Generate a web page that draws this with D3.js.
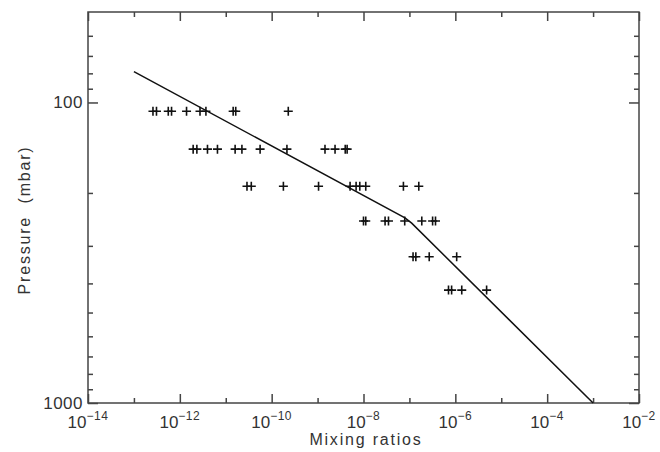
<!DOCTYPE html>
<html>
<head>
<meta charset="utf-8">
<script src="https://cdn.jsdelivr.net/npm/d3@7"></script>
<style>
  html, body { margin: 0; padding: 0; background: #fff; }
  svg { display: block; }
  text { font-family: "Liberation Sans", Arial, Helvetica, sans-serif; fill: #333; }
</style>
</head>
<body>
<svg id="chart" width="660" height="452"></svg>
<script>
// ---- Data ----
// Pressure levels (mbar) of the observation rows
const pressureLevels = [107, 143, 190, 248, 326, 421];
// Retrieved mixing ratios at each pressure level
const ratiosAt107 = [2.6e-13, 3.1e-13, 5.6e-13, 6.6e-13, 1.4e-12, 2.75e-12, 3.7e-12, 1.45e-11, 1.65e-11, 2.3e-10];
const ratiosAt143 = [1.95e-12, 2.35e-12, 4.0e-12, 6.6e-12, 1.6e-11, 2.25e-11, 5.6e-11, 2.15e-10, 1.45e-9, 2.4e-9, 4.0e-9, 4.4e-9];
const ratiosAt190 = [2.9e-11, 3.6e-11, 1.8e-10, 1.05e-9, 5.1e-9, 6.9e-9, 8.3e-9, 1.12e-8, 7.4e-8, 1.6e-7];
const ratiosAt248 = [1.0e-8, 1.12e-8, 2.95e-8, 3.5e-8, 7.9e-8, 1.86e-7, 3.2e-7, 3.7e-7];
const ratiosAt326 = [1.2e-7, 1.38e-7, 2.7e-7, 1.07e-6];
const ratiosAt421 = [7.1e-7, 8.3e-7, 1.38e-6, 4.8e-6];
const ratioRows = [ratiosAt107, ratiosAt143, ratiosAt190, ratiosAt248, ratiosAt326, ratiosAt421];

// Model profile
const profileRatio = [1e-13, 8e-8, 1.12e-7, 1e-3];
const profilePressure = [79, 242, 252, 1000];

// Axes
const xTickExponents = [-14, -12, -10, -8, -6, -4, -2];
const yTickLabels = [100, 1000];
const xTitle = "Mixing ratios";
const yTitle = "Pressure  (mbar)";

// ---- Layout ----
const mLeft = 88, mRight = 639, mTop = 12, mBottom = 403;
const svg = d3.select("#chart");

const x = d3.scaleLog().domain([1e-14, 1e-2]).range([mLeft, mRight]);
const y = d3.scaleLog().domain([50, 1000]).range([mTop, mBottom]);

const axisColor = "#444";

// Tick values
const xMajor = xTickExponents.map(e => Math.pow(10, e));
const xMinor = d3.range(-13, -2, 2).map(e => Math.pow(10, e));
const yMajor = yTickLabels;
const yMinor = [60, 70, 80, 90, 200, 300, 400, 500, 600, 700, 800, 900];

function styleAxis(g) {
  g.select(".domain").remove();
  g.selectAll(".tick line").attr("stroke", axisColor).attr("stroke-width", 1.5);
  g.selectAll(".tick text").remove();
}

// bottom ticks
svg.append("g").attr("transform", `translate(0,${mBottom})`)
  .call(d3.axisTop(x).tickValues(xMajor).tickSize(9).tickFormat(""))
  .call(styleAxis);
svg.append("g").attr("transform", `translate(0,${mBottom})`)
  .call(d3.axisTop(x).tickValues(xMinor).tickSize(5).tickFormat(""))
  .call(styleAxis);
// top ticks
svg.append("g").attr("transform", `translate(0,${mTop})`)
  .call(d3.axisBottom(x).tickValues(xMajor).tickSize(9).tickFormat(""))
  .call(styleAxis);
svg.append("g").attr("transform", `translate(0,${mTop})`)
  .call(d3.axisBottom(x).tickValues(xMinor).tickSize(5).tickFormat(""))
  .call(styleAxis);
// left ticks
svg.append("g").attr("transform", `translate(${mLeft},0)`)
  .call(d3.axisRight(y).tickValues(yMajor).tickSize(10).tickFormat(""))
  .call(styleAxis);
svg.append("g").attr("transform", `translate(${mLeft},0)`)
  .call(d3.axisRight(y).tickValues(yMinor).tickSize(5).tickFormat(""))
  .call(styleAxis);
// right ticks
svg.append("g").attr("transform", `translate(${mRight},0)`)
  .call(d3.axisLeft(y).tickValues(yMajor).tickSize(10).tickFormat(""))
  .call(styleAxis);
svg.append("g").attr("transform", `translate(${mRight},0)`)
  .call(d3.axisLeft(y).tickValues(yMinor).tickSize(5).tickFormat(""))
  .call(styleAxis);

// frame
svg.append("rect")
  .attr("x", mLeft).attr("y", mTop)
  .attr("width", mRight - mLeft).attr("height", mBottom - mTop)
  .attr("fill", "none").attr("stroke", axisColor).attr("stroke-width", 1.5);

// x tick labels
const xl = svg.append("g").selectAll("text").data(xTickExponents).join("text")
  .attr("x", d => x(Math.pow(10, d)))
  .attr("y", mBottom + 25)
  .attr("text-anchor", "middle")
  .style("font-size", "17px");
xl.append("tspan").text("10");
xl.append("tspan").attr("dy", -8).style("font-size", "12px").attr("letter-spacing", 0.5)
  .text(d => "\u2212" + Math.abs(d));

// y tick labels
svg.append("g").selectAll("text").data(yTickLabels).join("text")
  .attr("x", mLeft - 5)
  .attr("y", d => y(d) + 6)
  .attr("text-anchor", "end")
  .style("font-size", "17px")
  .attr("letter-spacing", 0.5)
  .text(d => d);

// titles
svg.append("text")
  .attr("x", 366).attr("y", 445)
  .attr("text-anchor", "middle")
  .style("font-size", "16px").attr("letter-spacing", 1.8)
  .text(xTitle);
svg.append("text")
  .attr("transform", `translate(30,220) rotate(-90)`)
  .attr("text-anchor", "middle")
  .style("font-size", "16px").attr("letter-spacing", 1.8)
  .style("white-space", "pre")
  .text(yTitle);

// model line
const profile = profileRatio.map((r, i) => [r, profilePressure[i]]);
svg.append("path")
  .datum(profile)
  .attr("fill", "none").attr("stroke", "#111").attr("stroke-width", 1.5)
  .attr("d", d3.line().x(d => x(d[0])).y(d => y(d[1])));

// observation markers
const points = [];
ratioRows.forEach((row, i) => row.forEach(r => points.push([r, pressureLevels[i]])));
const s = 4.5;
svg.append("g").selectAll("path").data(points).join("path")
  .attr("fill", "none").attr("stroke", "#111").attr("stroke-width", 1.6)
  .attr("d", d => {
    const cx = x(d[0]), cy = y(d[1]);
    return `M${cx - s},${cy}H${cx + s}M${cx},${cy - s}V${cy + s}`;
  });
</script>
</body>
</html>
